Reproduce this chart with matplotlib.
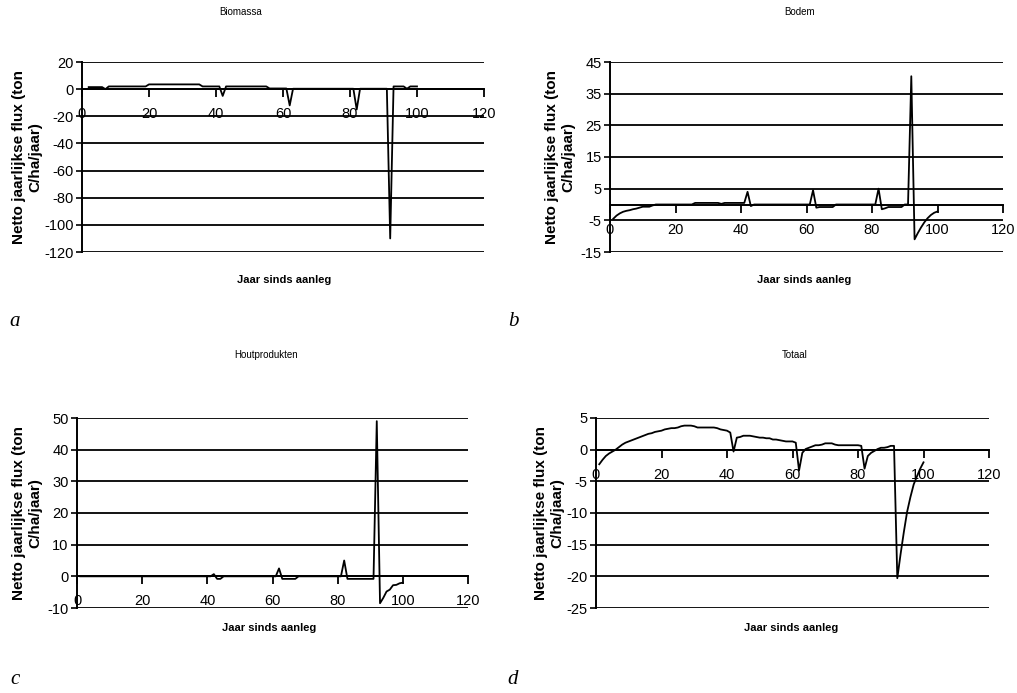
import numpy as np
import matplotlib
matplotlib.use('Agg')
import matplotlib.pyplot as plt

nan = np.nan

# Jaren sinds aanleg
years = list(range(1, 101))

# Netto jaarlijkse flux (ton C/ha/jaar)
biomassa = [
    nan, 1.5, 1.5, 1.5, 1.5, 1.5, 0.0, 2.0, 2.0, 2.0,
    2.0, 2.0, 2.0, 2.0, 2.0, 2.0, 2.0, 2.0, 2.0, 3.5,
    3.5, 3.5, 3.5, 3.5, 3.5, 3.5, 3.5, 3.5, 3.5, 3.5,
    3.5, 3.5, 3.5, 3.5, 3.5, 2.0, 2.0, 2.0, 2.0, 2.0,
    2.0, -5.0, 2.0, 2.0, 2.0, 2.0, 2.0, 2.0, 2.0, 2.0,
    2.0, 2.0, 2.0, 2.0, 2.0, 0.5, 0.5, 0.5, 0.5, 0.5,
    0.5, -12.0, 0.3, 0.3, 0.3, 0.3, 0.3, 0.3, 0.3, 0.3,
    0.3, 0.3, 0.3, 0.3, 0.3, 0.3, 0.3, 0.3, 0.3, 0.3,
    0.3, -15.0, 0.3, 0.3, 0.3, 0.3, 0.3, 0.3, 0.3, 0.3,
    0.3, -110.0, 2.0, 2.0, 2.0, 2.0, 0.3, 2.0, 2.0, 2.0,
]

bodem = [
    -4.5, -3.5, -2.8, -2.3, -2.0, -1.8, -1.5, -1.3, -1.0, -0.7,
    -0.7, -0.7, -0.3, 0.0, 0.0, 0.0, 0.0, 0.0, 0.0, 0.0,
    0.0, 0.0, 0.0, 0.0, 0.0, 0.5, 0.5, 0.5, 0.5, 0.5,
    0.5, 0.5, 0.5, 0.2, 0.5, 0.5, 0.5, 0.5, 0.5, 0.5,
    0.5, 4.0, -0.5, 0.0, 0.0, 0.0, 0.0, 0.0, 0.0, 0.0,
    0.0, 0.0, 0.0, 0.0, 0.0, 0.0, 0.0, 0.0, 0.0, 0.0,
    0.0, 4.5, -1.0, -0.8, -0.8, -0.8, -0.8, -0.8, 0.0, 0.0,
    0.0, 0.0, 0.0, 0.0, 0.0, 0.0, 0.0, 0.0, 0.0, 0.0,
    0.0, 5.0, -1.5, -1.2, -0.8, -0.8, -0.8, -0.8, -0.8, 0.0,
    0.0, 40.5, -11.0, -9.0, -7.2, -5.6, -4.3, -3.3, -2.6, -2.2,
]

houtprodukten = [
    0.0, 0.0, 0.0, 0.0, 0.0, 0.0, 0.0, 0.0, 0.0, 0.0,
    0.0, 0.0, 0.0, 0.0, 0.0, 0.0, 0.0, 0.0, 0.0, 0.0,
    0.0, 0.0, 0.0, 0.0, 0.0, 0.0, 0.0, 0.0, 0.0, 0.0,
    0.0, 0.0, 0.0, 0.0, 0.0, 0.0, 0.0, 0.0, 0.0, 0.0,
    0.0, 0.7, -0.8, -0.8, 0.0, 0.0, 0.0, 0.0, 0.0, 0.0,
    0.0, 0.0, 0.0, 0.0, 0.0, 0.0, 0.0, 0.0, 0.0, 0.0,
    0.0, 2.5, -0.8, -0.8, -0.8, -0.8, -0.8, 0.0, 0.0, 0.0,
    0.0, 0.0, 0.0, 0.0, 0.0, 0.0, 0.0, 0.0, 0.0, 0.0,
    0.0, 5.0, -0.8, -0.8, -0.8, -0.8, -0.8, -0.8, -0.8, -0.8,
    -0.8, 49.0, -8.5, -6.8, -4.8, -4.2, -2.8, -2.7, -2.2, -2.0,
]

totaal = [
    -2.3, -1.6, -1.0, -0.6, -0.3, 0.0, 0.4, 0.8, 1.1, 1.3,
    1.5, 1.7, 1.9, 2.1, 2.3, 2.5, 2.6, 2.8, 2.9, 3.0,
    3.2, 3.3, 3.4, 3.4, 3.5, 3.7, 3.8, 3.8, 3.8, 3.7,
    3.5, 3.5, 3.5, 3.5, 3.5, 3.5, 3.4, 3.2, 3.1, 3.0,
    2.7, -0.3, 1.9, 2.0, 2.2, 2.2, 2.2, 2.1, 2.0, 1.9,
    1.9, 1.8, 1.8, 1.6, 1.6, 1.5, 1.4, 1.3, 1.3, 1.3,
    1.1, -3.3, -0.5, 0.1, 0.3, 0.5, 0.7, 0.7, 0.8, 1.0,
    1.0, 1.0, 0.8, 0.7, 0.7, 0.7, 0.7, 0.7, 0.7, 0.7,
    0.6, -3.0, -1.0, -0.5, -0.2, 0.1, 0.3, 0.3, 0.4, 0.6,
    0.6, -20.3, -16.5, -13.0, -9.8, -7.5, -5.5, -4.2, -3.0, -2.0,
]

titles = ['Biomassa', 'Bodem', 'Houtprodukten', 'Totaal']
letters = ['a', 'b', 'c', 'd']
yticks = [
    [-120, -100, -80, -60, -40, -20, 0, 20],
    [-15, -5, 5, 15, 25, 35, 45],
    [-10, 0, 10, 20, 30, 40, 50],
    [-25, -20, -15, -10, -5, 0, 5],
]
xticks = [0, 20, 40, 60, 80, 100, 120]

plt.rcParams['font.family'] = ['Liberation Sans', 'DejaVu Sans']
plt.rcParams['axes.unicode_minus'] = False  # gewoon streepje zoals in Excel

W, H = 1017, 693
fig = plt.figure(figsize=(W / 100, H / 100), dpi=100)
fig.patch.set_facecolor('white')

# Panel-posities in pixels: links, rechts, boven, onder
boxes = [(82, 484, 62, 252), (610, 1003, 62, 252),
         (77, 468, 418, 608), (596, 989, 418, 608)]
# titels, x-label, y-label en letter posities (pixels)
title_pos = [(241, 12), (800, 12), (266, 355), (795, 355)]
xlab_pos = [(284, 280), (804, 280), (269, 628), (791, 628)]
ylab_x = [27, 560, 27, 549]
letter_pos = [(15, 322), (513, 322), (15, 680), (513, 680)]

series = [biomassa, bodem, houtprodukten, totaal]

for i in range(4):
    l, r, t, b = boxes[i]
    ax = fig.add_axes([l / W, 1 - b / H, (r - l) / W, (b - t) / H])
    ax.plot(years, series[i], color='black', linewidth=1.3)

    yt = yticks[i]
    ax.set_xlim(0, 120)
    ax.set_ylim(yt[0], yt[-1])
    ax.set_yticks(yt)
    ax.set_xticks(xticks)

    # horizontale rasterlijnen
    ax.grid(axis='y', color='black', linewidth=1.3)
    ax.set_axisbelow(True)

    for s in ['top', 'right']:
        ax.spines[s].set_visible(False)
    ax.spines['bottom'].set_position(('data', 0))
    ax.spines['bottom'].set_linewidth(1.4)
    ax.spines['left'].set_linewidth(1.4)

    ax.tick_params(axis='x', direction='out', length=6, width=1.3,
                   pad=7, labelsize=10.5)
    ax.tick_params(axis='y', direction='out', length=4, width=1.2,
                   pad=2, labelsize=10.5)

    fig.text(title_pos[i][0] / W, 1 - title_pos[i][1] / H, titles[i],
             ha='center', va='center', fontsize=7)
    fig.text(xlab_pos[i][0] / W, 1 - xlab_pos[i][1] / H, 'Jaar sinds aanleg',
             ha='center', va='center', fontsize=8, fontweight='bold')
    fig.text(ylab_x[i] / W, 1 - ((t + b) / 2) / H,
             'Netto jaarlijkse flux (ton\nC/ha/jaar)',
             ha='center', va='center', rotation=90, fontsize=11,
             fontweight='bold', linespacing=1.25)
    fig.text(letter_pos[i][0] / W, 1 - letter_pos[i][1] / H, letters[i],
             ha='center', va='center', fontsize=15, style='italic',
             family=['Liberation Serif', 'DejaVu Serif'])

fig.savefig('out.png', dpi=100, facecolor='white')
